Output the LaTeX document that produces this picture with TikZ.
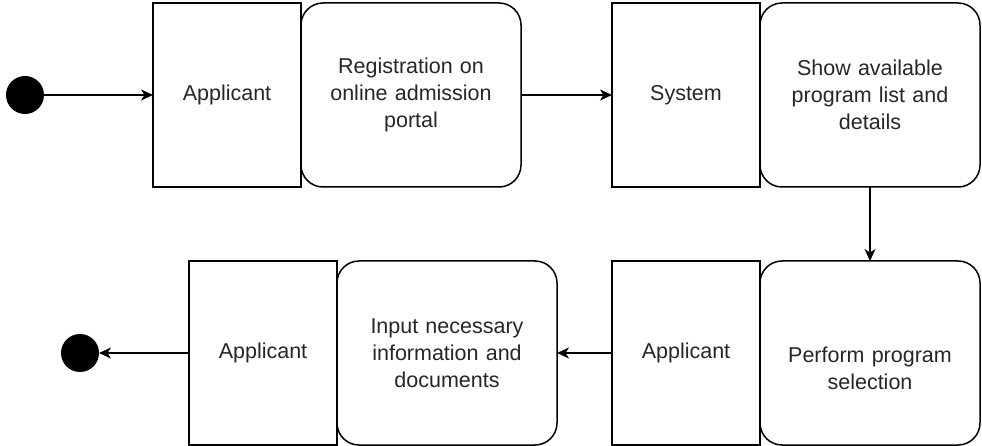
\documentclass[tikz,border=0pt]{standalone}
\usepackage{fontspec}
\setmainfont{Liberation Sans}
\usetikzlibrary{arrows.meta}
\usetikzlibrary{positioning}

\begin{document}
\begin{tikzpicture}[x=1pt,y=-1pt,
  actor/.style={draw,line width=1.5pt,minimum width=148pt,minimum height=184pt,inner sep=0pt,outer sep=0pt},
  activity/.style={draw,line width=1.5pt,rounded corners=22pt,minimum width=220pt,minimum height=184pt,
    text width=200pt,align=center,inner sep=0pt,outer sep=0pt},
  dot/.style={circle,fill=black,minimum size=38pt,inner sep=0pt,outer sep=0pt},
  flow/.style={-{Stealth[length=12pt,width=11pt,inset=3.5pt]},line width=1.5pt},
  font=\fontsize{21.5}{27}\selectfont, text=black!85]
\useasboundingbox (0,0) rectangle (982,446);
% top row
\node[dot] (start) at (25,95) {};
\node[actor] (app1) at (227,95) {Applicant};
\node[activity,right=0pt of app1] (reg) {Registration on\\online admission\\portal};
\node[actor,right=91pt of reg] (sys) {System};
\node[activity,right=0pt of sys] (show) {Show available\\program list and\\details};
% bottom row
\node[activity,below=74pt of show] (perf) {\strut\\Perform program\\selection};
\node[actor,left=0pt of perf] (app2) {Applicant};
\node[activity,left=55pt of app2] (input) {Input necessary\\information and\\documents};
\node[actor,left=0pt of input] (app3) {Applicant};
\node[dot,left=90pt of app3] (stop) {};
% flow
\draw[flow] (start) -- (app1);
\draw[flow] (reg) -- (sys);
\draw[flow] (show) -- (perf);
\draw[flow] (app2) -- (input);
\draw[flow] (app3) -- (stop);
\end{tikzpicture}
\end{document}
